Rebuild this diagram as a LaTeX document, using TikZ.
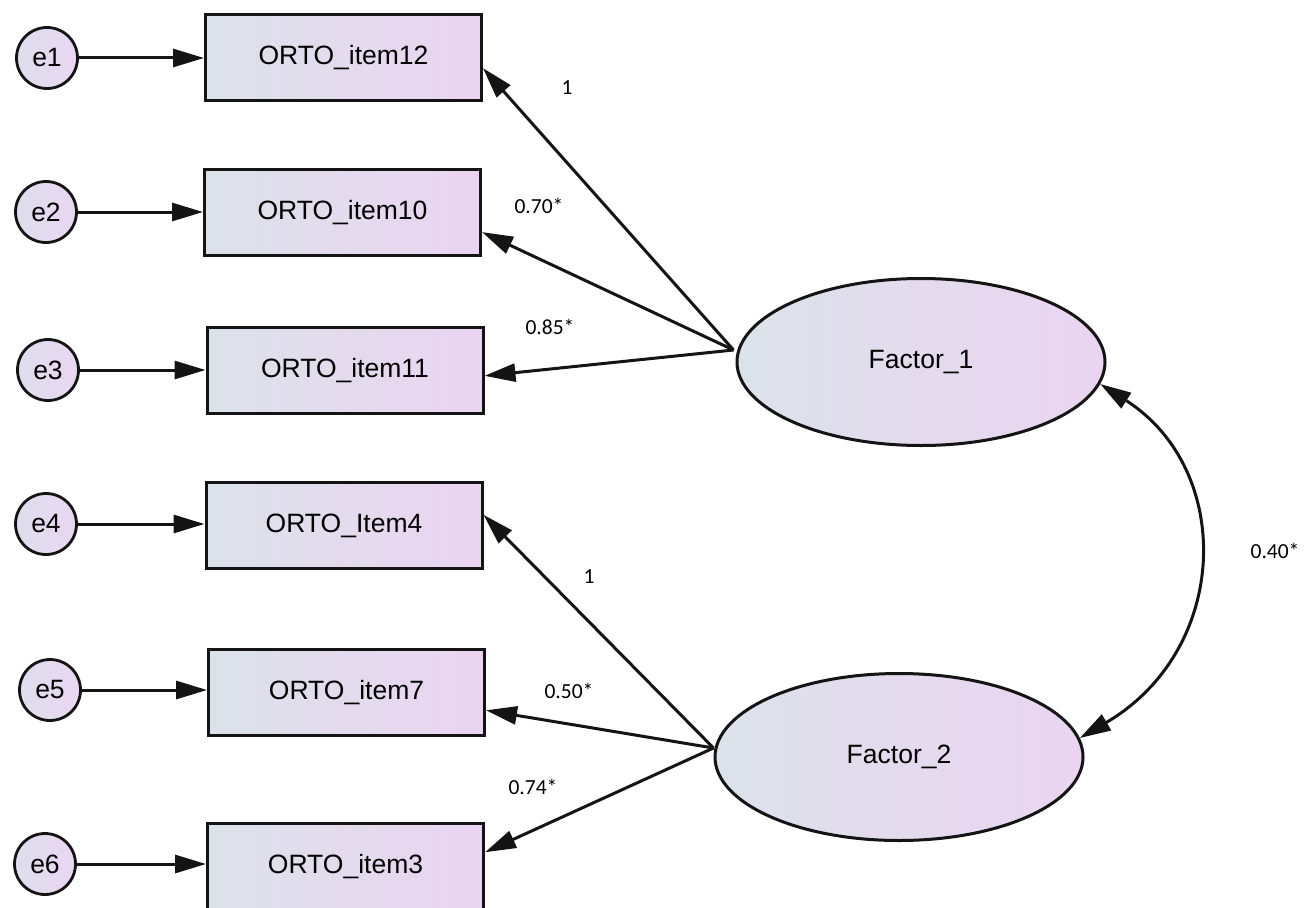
\documentclass[tikz,border=0pt]{standalone}
\usepackage{fontspec}
\setmainfont{Liberation Sans}
\newfontfamily\numfont{Carlito}
\usetikzlibrary{arrows.meta,shapes.geometric,calc}

\definecolor{boxl}{RGB}{220,226,234}
\definecolor{boxr}{RGB}{235,212,241}
\definecolor{errl}{RGB}{222,222,236}
\definecolor{errr}{RGB}{234,214,242}
\definecolor{linec}{RGB}{20,20,20}

\begin{document}
\begin{tikzpicture}[x=1pt,y=-1pt,
  obs/.style={draw=linec,line width=3pt,left color=boxl,right color=boxr,
    minimum width=276pt,minimum height=86pt,inner sep=0pt,
    font=\fontsize{26.5}{30}\selectfont},
  err/.style={circle,draw=linec,line width=2.8pt,left color=errl,right color=errr,
    minimum size=61pt,inner sep=0pt,font=\fontsize{26.5}{30}\selectfont},
  lat/.style={ellipse,draw=linec,line width=3pt,left color=boxl,right color=boxr,
    minimum width=368pt,minimum height=167pt,inner sep=0pt,
    font=\fontsize{26.5}{30}\selectfont},
  link/.style={draw=linec,line width=3pt,-{Triangle[length=31pt,width=18pt]}},
  cov/.style={draw=linec,line width=3pt,{Triangle[length=31pt,width=18pt]}-{Triangle[length=31pt,width=18pt]}},
  lbl/.style={font=\numfont\fontsize{21.5}{24}\selectfont,inner sep=0pt}
]
\useasboundingbox (0,0) rectangle (1313,907);

% observed indicators
\node[obs] (i12) at (343.5,57.5)  {ORTO\_item12};
\node[obs] (i10) at (342.5,212.5) {ORTO\_item10};
\node[obs] (i11) at (345,370.5)   {ORTO\_item11};
\node[obs] (i4)  at (344,525.5)   {ORTO\_Item4};
\node[obs] (i7)  at (346.5,692.5) {ORTO\_item7};
\node[obs] (i3)  at (345.5,866.5) {ORTO\_item3};

% error terms
\node[err] (e1) at (47,58)  {e1};
\node[err] (e2) at (46,212) {e2};
\node[err] (e3) at (48,370) {e3};
\node[err] (e4) at (46,524) {e4};
\node[err] (e5) at (50,690) {e5};
\node[err] (e6) at (45,864) {e6};

% latent factors
\node[lat] (F1) at (921,362) {Factor\_1};
\node[lat] (F2) at (899,757) {Factor\_2};

% error paths
\draw[link] (e1) -- (e1 -| i12.west);
\draw[link] (e2) -- (e2 -| i10.west);
\draw[link] (e3) -- (e3 -| i11.west);
\draw[link] (e4) -- (e4 -| i4.west);
\draw[link] (e5) -- (e5 -| i7.west);
\draw[link] (e6) -- (e6 -| i3.west);

% loadings
\coordinate (f1s) at ($(F1.west)+(-2,-12)$);
\coordinate (f2s) at ($(F2.west)+(0,-9)$);
\draw[link] (f1s) -- ($(i12.north east)!0.62!(i12.south east)$);
\draw[link] (f1s) -- ($(i10.north east)!0.72!(i10.south east)$);
\draw[link] (f1s) -- ($(i11.north east)!0.56!(i11.south east)$);
\draw[link] (f2s) -- ($(i4.north east)!0.38!(i4.south east)$);
\draw[link] (f2s) -- ($(i7.north east)!0.70!(i7.south east)$);
\draw[link] (f2s) -- ($(i3.north east)!0.34!(i3.south east)$);

% factor covariance
\draw[cov] (F1.-7) .. controls (1235,470) and (1230,650) .. (F2.6);

% estimates
\node[lbl] (l1) at (567,88)  {1};
\node[lbl] (l2) at (539,206) {0.70*};
\node[lbl] (l3) at (550,327) {0.85*};
\node[lbl] (l4) at (589,577) {1};
\node[lbl] (l5) at (569,691) {0.50*};
\node[lbl] (l6) at (533,787) {0.74*};
\node[lbl] (l7) at (1275,551) {0.40*};
\end{tikzpicture}
\end{document}
